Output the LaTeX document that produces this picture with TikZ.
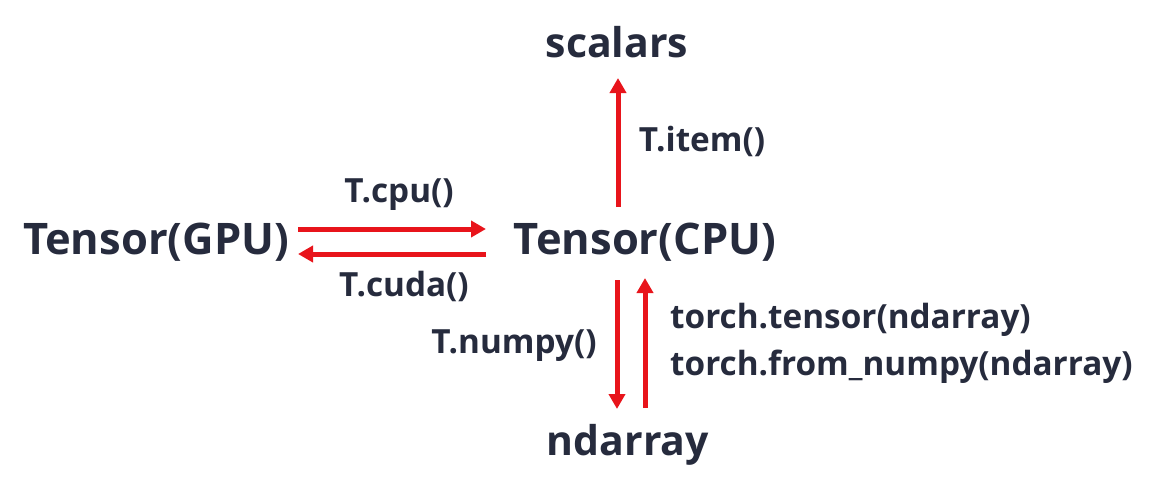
\documentclass[tikz,border=0pt]{standalone}
\usepackage{fontspec}
\setmainfont{Open Sans}
\usetikzlibrary{arrows.meta}
\definecolor{txt}{HTML}{262B3D}
\definecolor{arr}{HTML}{E8141B}
\begin{document}
\begin{tikzpicture}[x=1pt,y=-1pt,
  big/.style={text=txt,font=\fontsize{41}{48}\selectfont\bfseries,inner sep=0pt},
  tens/.style={text=txt,font=\fontsize{43.5}{50}\selectfont\bfseries,inner sep=0pt},
  lbl/.style={text=txt,font=\fontsize{33.3}{40}\selectfont\bfseries,inner sep=0pt},
  conv/.style={draw=arr,line width=5pt,-{Triangle[length=15pt,width=16pt]}}]
\useasboundingbox (0,0) rectangle (1159,495);
\node[big] (scalars) at (617,42) {scalars};
\node[tens] (gpu) at (156,242) {Tensor(GPU)};
\node[tens] (cpu) at (645,242) {Tensor(CPU)};
\node[big] (nd) at (628,445) {ndarray};
\node[lbl] (lcpu) at (399,195) {T.cpu()};
\node[lbl] (lcuda) at (404,286) {T.cuda()};
\node[lbl] (litem) at (702,141) {T.item()};
\node[lbl] (lnumpy) at (514,346) {T.numpy()};
\node[lbl,anchor=west] (ltensor) at (670,320) {torch.tensor(ndarray)};
\node[lbl,anchor=west] (lfrom) at (670,367) {torch.from\_numpy(ndarray)};
\coordinate (g1) at (298,229); \coordinate (c1) at (486,229);
\coordinate (c2) at (486,254); \coordinate (g2) at (298,254);
\coordinate (i1) at (618,207); \coordinate (s1) at (618,78);
\coordinate (n1) at (617,280); \coordinate (d1) at (617,409);
\coordinate (d2) at (645,408); \coordinate (n2) at (645,278);
\draw[conv] (g1) -- (c1);
\draw[conv] (c2) -- (g2);
\draw[conv] (i1) -- (s1);
\draw[conv] (n1) -- (d1);
\draw[conv] (d2) -- (n2);
\end{tikzpicture}
\end{document}
